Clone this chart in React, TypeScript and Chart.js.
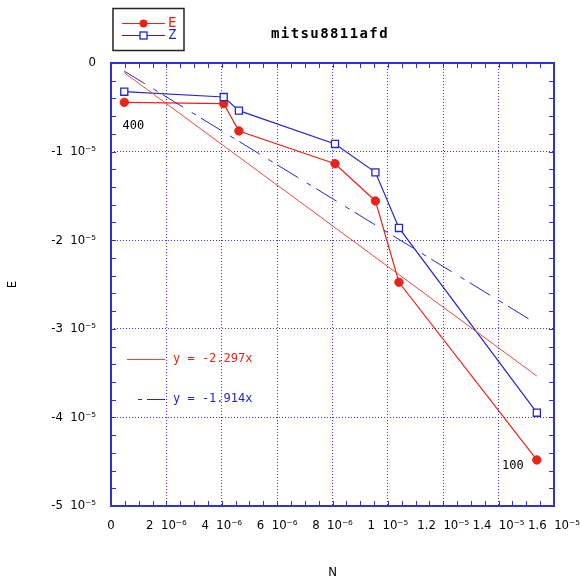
import React, { useEffect, useRef } from 'react';
import { Chart, registerables } from 'chart.js';

Chart.register(...registerables);

// ---- data ----
const nValues = [0.48e-6, 4.07e-6, 4.62e-6, 8.09e-6, 9.55e-6, 10.4e-6, 15.38e-6];
const eValues = [-0.444e-5, -0.459e-5, -0.767e-5, -1.137e-5, -1.557e-5, -2.475e-5, -4.48e-5];
const zValues = [-0.324e-5, -0.384e-5, -0.538e-5, -0.914e-5, -1.234e-5, -1.862e-5, -3.947e-5];
const fitN = [0.48e-6, 15.38e-6];
const fitE = [-0.11e-5, -3.533e-5];
const fitZ = [-0.092e-5, -2.944e-5];
const seriesNames = ['E', 'Z'];
const fitLabels = ['y = -2.297x', 'y = -1.914x'];
const pointTags = ['400', '100'];
const chartTitle = 'mitsu8811afd';
const xTitle = 'N';
const yTitle = 'E';
const xTickValues = [0, 2e-6, 4e-6, 6e-6, 8e-6, 1e-5, 1.2e-5, 1.4e-5, 1.6e-5];
const xTickLabels = ['0', '2  10⁻⁶', '4  10⁻⁶', '6  10⁻⁶', '8  10⁻⁶', '1  10⁻⁵', '1.2  10⁻⁵', '1.4  10⁻⁵', '1.6  10⁻⁵'];
const yTickValues = [-5e-5, -4e-5, -3e-5, -2e-5, -1e-5, 0];
const yTickLabels = ['-5  10⁻⁵', '-4  10⁻⁵', '-3  10⁻⁵', '-2  10⁻⁵', '-1  10⁻⁵', '0'];

const RED = '#e8241a';
const RED_FIT = '#ee4a3a';
const BLUE = '#2626c8';
const FRAME = '#3232d2';
const GRID = '#3535f0';
const MONO = '"DejaVu Sans Mono", monospace';
const NARROW = '"Liberation Sans Narrow", "DejaVu Sans Condensed", "DejaVu Sans", sans-serif';
const FIT_DASH = [24, 10, 5, 6];

const decorPlugin = {
  id: 'decor',
  beforeDatasetsDraw(chart: any) {
    const { ctx, chartArea: a, scales } = chart;
    const x = scales.x;
    const y = scales.y;
    ctx.save();
    ctx.strokeStyle = FRAME;
    ctx.lineWidth = 1;
    ctx.beginPath();
    for (let i = 0; i <= 32; i++) {
      const px = Math.round(x.getPixelForValue(i * 5e-7)) + 0.5;
      ctx.moveTo(px, a.bottom);
      ctx.lineTo(px, a.bottom - 5);
      ctx.moveTo(px, a.top);
      ctx.lineTo(px, a.top + 5);
    }
    for (let i = 0; i <= 25; i++) {
      const py = Math.round(y.getPixelForValue(-i * 2e-6)) + 0.5;
      ctx.moveTo(a.left, py);
      ctx.lineTo(a.left + 5, py);
      ctx.moveTo(a.right, py);
      ctx.lineTo(a.right - 5, py);
    }
    ctx.stroke();
    ctx.lineWidth = 2;
    ctx.strokeRect(a.left, a.top, a.right - a.left, a.bottom - a.top);
    ctx.restore();
  },
  afterDraw(chart: any) {
    const { ctx, chartArea: a, scales } = chart;
    const x = scales.x;
    const y = scales.y;
    ctx.save();
    // title
    ctx.fillStyle = '#000';
    ctx.font = `bold 14px ${MONO}`;
    (ctx as any).letterSpacing = '1.4px';
    ctx.textAlign = 'center';
    ctx.textBaseline = 'middle';
    ctx.fillText(chartTitle, 330, 34);
    (ctx as any).letterSpacing = '0px';

    // legend box
    ctx.strokeStyle = '#222';
    ctx.lineWidth = 1.5;
    ctx.strokeRect(113, 8.5, 71, 42);
    const rowsY = [23.5, 35.5];
    ctx.font = `14px ${MONO}`;
    ctx.textAlign = 'left';
    [RED, BLUE].forEach((c, i) => {
      const yy = rowsY[i];
      ctx.strokeStyle = c;
      ctx.lineWidth = 1.2;
      ctx.beginPath();
      ctx.moveTo(122, yy);
      ctx.lineTo(165, yy);
      ctx.stroke();
      if (i === 0) {
        ctx.fillStyle = c;
        ctx.beginPath();
        ctx.arc(143.5, yy, 4, 0, Math.PI * 2);
        ctx.fill();
      } else {
        ctx.fillStyle = '#fff';
        ctx.fillRect(140, yy - 3.5, 7, 7);
        ctx.lineWidth = 1.3;
        ctx.strokeRect(140, yy - 3.5, 7, 7);
      }
      ctx.fillStyle = c;
      ctx.fillText(seriesNames[i], 168, yy);
    });

    // regression legend inside plot
    ctx.font = `12px ${MONO}`;
    ctx.strokeStyle = RED_FIT;
    ctx.lineWidth = 1;
    ctx.beginPath();
    ctx.moveTo(a.left + 16, 359.5);
    ctx.lineTo(a.left + 54, 359.5);
    ctx.stroke();
    ctx.fillStyle = RED;
    ctx.fillText(fitLabels[0], a.left + 62, 359);
    ctx.strokeStyle = BLUE;
    ctx.setLineDash([4, 5, 18, 50]);
    ctx.beginPath();
    ctx.moveTo(a.left + 27, 399.5);
    ctx.lineTo(a.left + 54, 399.5);
    ctx.stroke();
    ctx.setLineDash([]);
    ctx.fillStyle = BLUE;
    ctx.fillText(fitLabels[1], a.left + 62, 399);

    // point tags
    ctx.fillStyle = '#000';
    ctx.font = `12px ${MONO}`;
    ctx.textAlign = 'center';
    const p0x = x.getPixelForValue(nValues[0]);
    const p0y = y.getPixelForValue(eValues[0]);
    ctx.fillText(pointTags[0], p0x + 9, p0y + 24);
    const p1x = x.getPixelForValue(nValues[nValues.length - 1]);
    const p1y = y.getPixelForValue(eValues[eValues.length - 1]);
    ctx.fillText(pointTags[1], p1x - 24, p1y + 6);
    ctx.restore();
  },
};

export default function App() {
  const ref = useRef<HTMLCanvasElement | null>(null);
  useEffect(() => {
    const canvas = ref.current;
    if (!canvas) return;
    const chart = new Chart(canvas, {
      type: 'scatter',
      data: {
        datasets: [
          {
            label: 'fitE',
            data: fitN.map((n, i) => ({ x: n, y: fitE[i] })),
            showLine: true,
            borderColor: RED_FIT,
            borderWidth: 1,
            pointRadius: 0,
            fill: false,
          },
          {
            label: 'fitZ',
            data: fitN.map((n, i) => ({ x: n, y: fitZ[i] })),
            showLine: true,
            borderColor: BLUE,
            borderWidth: 1,
            borderDash: FIT_DASH,
            pointRadius: 0,
            fill: false,
          },
          {
            label: seriesNames[1],
            data: nValues.map((n, i) => ({ x: n, y: zValues[i] })),
            showLine: true,
            borderColor: BLUE,
            borderWidth: 1.2,
            pointStyle: 'rect',
            pointRadius: 5,
            pointBackgroundColor: '#fff',
            pointBorderColor: BLUE,
            pointBorderWidth: 1.3,
            fill: false,
          },
          {
            label: seriesNames[0],
            data: nValues.map((n, i) => ({ x: n, y: eValues[i] })),
            showLine: true,
            borderColor: RED,
            borderWidth: 1.2,
            pointStyle: 'circle',
            pointRadius: 4.2,
            pointBackgroundColor: RED,
            pointBorderColor: RED,
            pointBorderWidth: 1,
            fill: false,
          },
        ],
      },
      options: {
        animation: false,
        responsive: false,
        maintainAspectRatio: false,
        layout: { padding: { left: 0, top: 63, right: 26, bottom: 0 } },
        plugins: {
          legend: { display: false },
          title: { display: false },
          tooltip: { enabled: false },
        },
        scales: {
          x: {
            type: 'linear',
            min: 0,
            max: 1.6e-5,
            afterBuildTicks: (s: any) => {
              s.ticks = xTickValues.map((v) => ({ value: v }));
            },
            afterFit: (s: any) => {
              s.height = 74;
              s.paddingLeft = 0;
              s.paddingRight = 0;
            },
            ticks: {
              autoSkip: false,
              maxRotation: 0,
              minRotation: 0,
              padding: 12,
              color: '#000',
              font: { family: NARROW, size: 13 },
              callback: (_v: any, i: number) => xTickLabels[i],
            },
            grid: { color: GRID, lineWidth: 1, drawTicks: false },
            border: { display: false, dash: [1, 2] },
            title: {
              display: true,
              text: xTitle,
              color: '#000',
              font: { family: NARROW, size: 13 },
              padding: { top: 0, bottom: 0 },
            },
          },
          y: {
            type: 'linear',
            min: -5e-5,
            max: 0,
            afterBuildTicks: (s: any) => {
              s.ticks = yTickValues.map((v) => ({ value: v }));
            },
            afterFit: (s: any) => {
              s.width = 111;
              s.paddingTop = 0;
              s.paddingBottom = 0;
            },
            ticks: {
              autoSkip: false,
              padding: 15,
              color: '#000',
              font: { family: NARROW, size: 13 },
              callback: (_v: any, i: number) => yTickLabels[i],
            },
            grid: { color: GRID, lineWidth: 1, drawTicks: false },
            border: { display: false, dash: [1, 2] },
            title: {
              display: true,
              text: yTitle,
              color: '#000',
              font: { family: NARROW, size: 13 },
              padding: { top: 5, bottom: 0 },
            },
          },
        },
      },
      plugins: [decorPlugin],
    } as any);
    return () => chart.destroy();
  }, []);

  return (
    <div style={{ position: 'fixed', left: 0, top: 0, width: 580, height: 580, background: '#fff' }}>
      <canvas ref={ref} width={580} height={580} style={{ width: 580, height: 580 }} />
    </div>
  );
}
